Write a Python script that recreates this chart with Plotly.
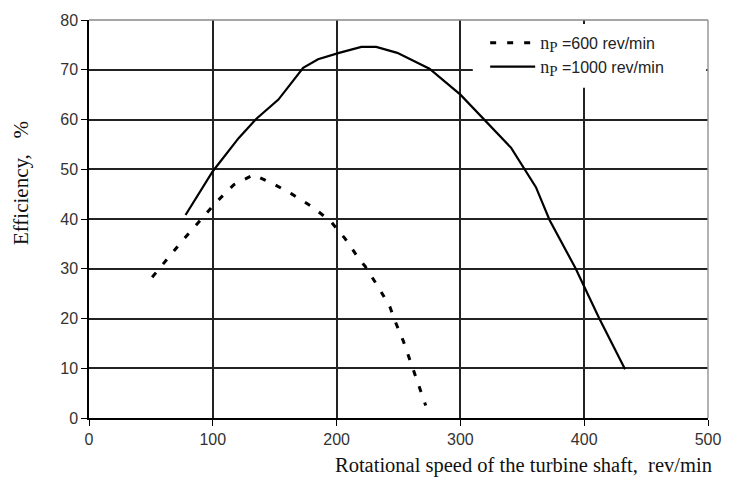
import plotly.graph_objects as go

# Data
speed_600 = [51, 64, 76, 88, 102, 117, 133, 150, 164, 180, 195, 207, 218, 223, 233, 243, 247, 254, 260, 265, 272]
eff_600 = [28.3, 32.3, 35.8, 39.2, 43.2, 46.9, 48.9, 46.9, 45.0, 42.5, 39.6, 36.0, 32.0, 30.5, 26.6, 22.4, 19.6, 15.4, 11.1, 7.1, 2.5]

speed_1000 = [78, 100, 121, 135, 153, 173, 185, 202, 220, 232, 249, 275, 300, 321, 341, 361, 372, 393, 412, 433]
eff_1000 = [40.8, 49.6, 56.3, 60.1, 64.0, 70.4, 72.1, 73.4, 74.6, 74.6, 73.4, 70.2, 65.0, 59.6, 54.3, 46.4, 39.8, 30.1, 20.1, 9.8]

x_ticks = [0, 100, 200, 300, 400, 500]
y_ticks = [0, 10, 20, 30, 40, 50, 60, 70, 80]

serif = "Liberation Serif"
sans = "Liberation Sans"

def leg_name(val):
    return (f'<span style="font-family:{serif};font-size:18px">n</span>'
            f'<sub><span style="font-family:{serif};font-size:15px">P</span></sub>'
            f' ={val} rev/min')

fig = go.Figure()
fig.add_trace(go.Scatter(x=speed_600, y=eff_600, mode="lines",
                         line=dict(color="black", width=3, dash="6px,11px"),
                         name=leg_name(600)))
fig.add_trace(go.Scatter(x=speed_1000, y=eff_1000, mode="lines",
                         line=dict(color="black", width=2.2),
                         name=leg_name(1000)))

fig.update_layout(
    width=733, height=494,
    margin=dict(l=89, r=20, t=20, b=76),
    paper_bgcolor="white", plot_bgcolor="white",
    font=dict(family=sans, size=16, color="#222"),
    showlegend=True,
    legend=dict(x=0.64, y=0.985, xanchor="left", yanchor="top",
                bgcolor="rgba(0,0,0,0)", borderwidth=0,
                font=dict(family=sans, size=16, color="#222"),
                tracegroupgap=9, itemwidth=45),
)
fig.update_xaxes(range=[0, 500], tickvals=x_ticks, showgrid=True, gridcolor="#222",
                 gridwidth=1.5, showline=True, linecolor="black", linewidth=1.5,
                 ticks="outside", ticklen=6, tickcolor="black", zeroline=False,
                 tickfont=dict(size=16, family=sans, color="#333"))
fig.update_yaxes(range=[0, 80], tickvals=y_ticks, showgrid=True, gridcolor="#222",
                 gridwidth=1.5, showline=True, linecolor="black", linewidth=1.5,
                 ticks="outside", ticklen=6, tickcolor="black", zeroline=False,
                 tickfont=dict(size=16, family=sans, color="#333"))

# white legend box covering the grid
fig.add_shape(type="rect", xref="paper", yref="paper", x0=0.62, x1=0.997,
              y0=0.83, y1=0.99, fillcolor="white", line=dict(width=0),
              layer="above")
# plot frame (top/right lighter)
fig.add_shape(type="line", xref="paper", yref="paper", x0=0, x1=1, y0=1, y1=1,
              line=dict(color="#888", width=1.5))
fig.add_shape(type="line", xref="paper", yref="paper", x0=1, x1=1, y0=0, y1=1,
              line=dict(color="#999", width=1.5))

fig.add_annotation(text="Rotational speed of the turbine shaft,  rev/min",
                   xref="paper", yref="paper", x=1.01, y=-0.12, xanchor="right",
                   yanchor="middle", showarrow=False,
                   font=dict(family=serif, size=20.5, color="#111"))
fig.add_annotation(text="Efficiency,   %", xref="paper", yref="paper",
                   x=-0.11, y=0.59, xanchor="center", yanchor="middle",
                   textangle=-90, showarrow=False,
                   font=dict(family=serif, size=21, color="#111"))

fig.write_html("out.html")
